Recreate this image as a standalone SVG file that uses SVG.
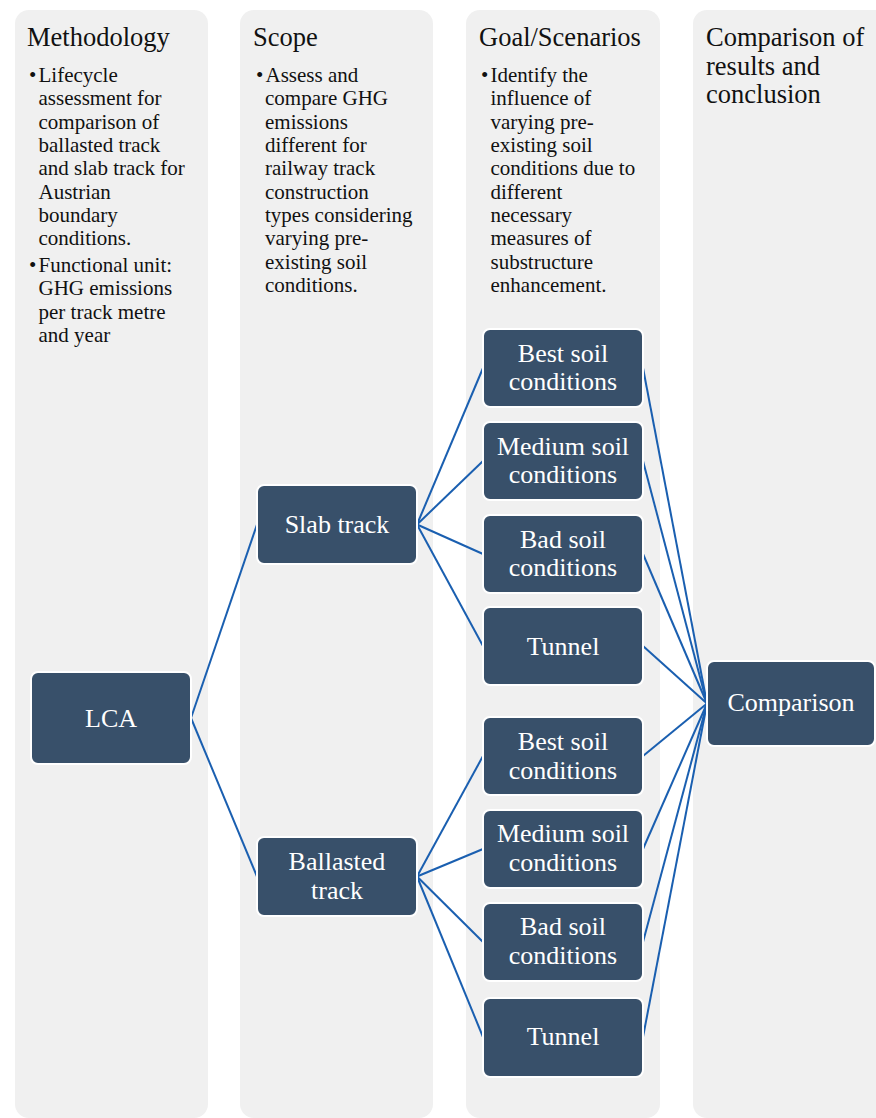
<svg xmlns="http://www.w3.org/2000/svg" width="876" height="1118" viewBox="0 0 876 1118">
<style>
.col{fill:#f0f0f0}
.hdr{font-family:"Liberation Serif",serif;font-size:26.5px;fill:#111}
.txt{font-family:"Liberation Serif",serif;font-size:21px;fill:#111}
.box{fill:#38506a;stroke:#ffffff;stroke-width:2}
.lbl{font-family:"Liberation Serif",serif;font-size:26px;fill:#ffffff;text-anchor:middle}
.con line{stroke:#1a5fb0;stroke-width:2;fill:none}
</style>
<rect width="876" height="1118" fill="#ffffff"/>
<g id="columns">
<rect class="col" x="15" y="10" width="193" height="1108" rx="14"/>
<rect class="col" x="240" y="10" width="193" height="1108" rx="14"/>
<rect class="col" x="466" y="10" width="194" height="1108" rx="14"/>
<rect class="col" x="693" y="10" width="200" height="1108" rx="14"/>
</g>
<g id="col-methodology">
<text class="hdr" x="27" y="46">Methodology</text>
<text class="txt" x="29" y="82">•</text>
<text class="txt" x="38.5" y="82">
<tspan x="38.5" y="82">Lifecycle</tspan>
<tspan x="38.5" y="105.3">assessment for</tspan>
<tspan x="38.5" y="128.6">comparison of</tspan>
<tspan x="38.5" y="152">ballasted track</tspan>
<tspan x="38.5" y="175.3">and slab track for</tspan>
<tspan x="38.5" y="198.6">Austrian</tspan>
<tspan x="38.5" y="222">boundary</tspan>
<tspan x="38.5" y="245.3">conditions.</tspan>
</text>
<text class="txt" x="29" y="272">•</text>
<text class="txt" x="38.5" y="272">
<tspan x="38.5" y="272">Functional unit:</tspan>
<tspan x="38.5" y="295.3">GHG emissions</tspan>
<tspan x="38.5" y="318.6">per track metre</tspan>
<tspan x="38.5" y="342">and year</tspan>
</text>
</g>
<g id="col-scope">
<text class="hdr" x="253" y="46">Scope</text>
<text class="txt" x="256" y="82">•</text>
<text class="txt" x="265" y="82">
<tspan x="265.5" y="82">Assess and</tspan>
<tspan x="265" y="105.3">compare GHG</tspan>
<tspan x="265" y="128.6">emissions</tspan>
<tspan x="265" y="152">different for</tspan>
<tspan x="265" y="175.3">railway track</tspan>
<tspan x="265" y="198.6">construction</tspan>
<tspan x="265" y="222">types considering</tspan>
<tspan x="265" y="245.3">varying pre-</tspan>
<tspan x="265" y="268.6">existing soil</tspan>
<tspan x="265" y="292">conditions.</tspan>
</text>
</g>
<g id="col-goal">
<text class="hdr" x="479" y="46">Goal/Scenarios</text>
<text class="txt" x="481" y="82">•</text>
<text class="txt" x="490.5" y="82">
<tspan x="490.5" y="82">Identify the</tspan>
<tspan x="490.5" y="105.3">influence of</tspan>
<tspan x="490.5" y="128.6">varying pre-</tspan>
<tspan x="490.5" y="152">existing soil</tspan>
<tspan x="490.5" y="175.3">conditions due to</tspan>
<tspan x="490.5" y="198.6">different</tspan>
<tspan x="490.5" y="222">necessary</tspan>
<tspan x="490.5" y="245.3">measures of</tspan>
<tspan x="490.5" y="268.6">substructure</tspan>
<tspan x="490.5" y="292">enhancement.</tspan>
</text>
</g>
<g id="col-comparison">
<text class="hdr" x="706" y="46">
<tspan x="706" y="46">Comparison of</tspan>
<tspan x="706" y="74.5">results and</tspan>
<tspan x="706" y="103">conclusion</tspan>
</text>
</g>
<g id="connectors" class="con">
<line x1="191" y1="718" x2="257" y2="524.5"/>
<line x1="191" y1="718" x2="257" y2="876.5"/>
<line x1="417" y1="524.5" x2="483" y2="368"/>
<line x1="417" y1="524.5" x2="483" y2="461"/>
<line x1="417" y1="524.5" x2="483" y2="554"/>
<line x1="417" y1="524.5" x2="483" y2="646"/>
<line x1="417" y1="876.5" x2="483" y2="756"/>
<line x1="417" y1="876.5" x2="483" y2="849"/>
<line x1="417" y1="876.5" x2="483" y2="942"/>
<line x1="417" y1="876.5" x2="483" y2="1037"/>
<line x1="643" y1="368" x2="707" y2="703.5"/>
<line x1="643" y1="461" x2="707" y2="703.5"/>
<line x1="643" y1="554" x2="707" y2="703.5"/>
<line x1="643" y1="646" x2="707" y2="703.5"/>
<line x1="643" y1="756" x2="707" y2="703.5"/>
<line x1="643" y1="849" x2="707" y2="703.5"/>
<line x1="643" y1="942" x2="707" y2="703.5"/>
<line x1="643" y1="1037" x2="707" y2="703.5"/>
</g>
<g id="node-lca">
<rect class="box" x="31" y="672" width="160" height="92" rx="7"/>
<text class="lbl" x="111" y="726.5">LCA</text>
</g>
<g id="node-slab">
<rect class="box" x="257" y="485" width="160" height="79" rx="7"/>
<text class="lbl" x="337" y="532.5">Slab track</text>
</g>
<g id="node-ballasted">
<rect class="box" x="257" y="837" width="160" height="79" rx="7"/>
<text class="lbl" x="337" y="870"><tspan x="337" y="870">Ballasted</tspan><tspan x="337" y="899">track</tspan></text>
</g>
<g id="node-slab-best">
<rect class="box" x="483" y="329" width="160" height="78" rx="7"/>
<text class="lbl" x="563" y="361.5"><tspan x="563" y="361.5">Best soil</tspan><tspan x="563" y="390">conditions</tspan></text>
</g>
<g id="node-slab-medium">
<rect class="box" x="483" y="422" width="160" height="78" rx="7"/>
<text class="lbl" x="563" y="454.5"><tspan x="563" y="454.5">Medium soil</tspan><tspan x="563" y="483">conditions</tspan></text>
</g>
<g id="node-slab-bad">
<rect class="box" x="483" y="515" width="160" height="78" rx="7"/>
<text class="lbl" x="563" y="547.5"><tspan x="563" y="547.5">Bad soil</tspan><tspan x="563" y="576">conditions</tspan></text>
</g>
<g id="node-slab-tunnel">
<rect class="box" x="483" y="607" width="160" height="78" rx="7"/>
<text class="lbl" x="563" y="654.5">Tunnel</text>
</g>
<g id="node-ballasted-best">
<rect class="box" x="483" y="717" width="160" height="78" rx="7"/>
<text class="lbl" x="563" y="749.5"><tspan x="563" y="749.5">Best soil</tspan><tspan x="563" y="778.5">conditions</tspan></text>
</g>
<g id="node-ballasted-medium">
<rect class="box" x="483" y="810" width="160" height="78" rx="7"/>
<text class="lbl" x="563" y="842"><tspan x="563" y="842">Medium soil</tspan><tspan x="563" y="871">conditions</tspan></text>
</g>
<g id="node-ballasted-bad">
<rect class="box" x="483" y="903" width="160" height="78" rx="7"/>
<text class="lbl" x="563" y="934.5"><tspan x="563" y="934.5">Bad soil</tspan><tspan x="563" y="963.5">conditions</tspan></text>
</g>
<g id="node-ballasted-tunnel">
<rect class="box" x="483" y="998" width="160" height="79" rx="7"/>
<text class="lbl" x="563" y="1044.5">Tunnel</text>
</g>
<g id="node-comparison">
<rect class="box" x="707" y="661" width="168" height="85" rx="7"/>
<text class="lbl" x="791" y="711">Comparison</text>
</g>
</svg>
